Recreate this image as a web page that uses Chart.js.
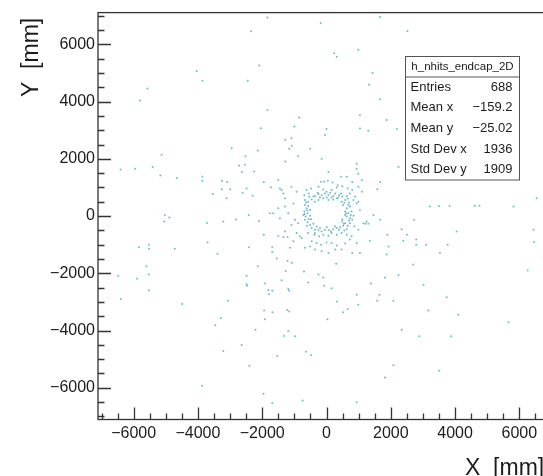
<!DOCTYPE html>
<html>
<head>
<meta charset="utf-8">
<title>h_nhits_endcap_2D</title>
<script src="https://cdn.jsdelivr.net/npm/chart.js@4.4.1/dist/chart.umd.min.js"></script>
<style>
  html, body { margin: 0; padding: 0; background: #fff; overflow: hidden; }
  #wrap { position: relative; width: 543px; height: 476px; overflow: hidden; }
  #hits { position: absolute; left: 0; top: 0; }
</style>
</head>
<body>
<div id="wrap"><canvas id="hits" width="556" height="476"></canvas></div>
<script>
// endcap hit positions [x, y] in mm
const ringHits = [
  [-1500,1250],[-170,1200],[-70,1200],[40,1230],[190,1170],[450,1370],[630,1370],[800,1190],[60,1540],[350,1080],
  [-620,910],[-480,960],[-250,1020],[-100,930],[0,850],[160,910],[320,1000],[490,1040],[660,960],[800,910],[990,1020],[1100,850],
  [-690,730],[-550,790],[-410,680],[-250,770],[-150,730],[-50,790],[60,730],[160,650],[270,790],[390,730],[490,680],[630,700],[730,790],[890,680],
  [-670,560],[-570,500],[-460,580],[-360,500],[-250,560],[-100,620],[60,560],[210,580],[320,620],[470,500],[580,560],[700,470],[840,560],[990,500],
  [-670,390],[-620,270],[-570,350],[-510,210],[-690,160],[520,390],[630,270],[580,160],[730,330],[780,160],[680,100],
  [-720,40],[-650,-20],[-590,100],[-510,10],[-480,-110],[580,40],[630,-20],[730,-80],[490,-110],[840,10],
  [-670,-130],[-590,-220],[-510,-310],[-410,-270],[490,-190],[580,-250],[660,-340],[730,-250],[800,-130],
  [-460,-420],[-360,-480],[-250,-500],[-150,-540],[-50,-480],[80,-500],[210,-460],[320,-420],[420,-390],[520,-340],[630,-460],
  [-570,-590],[-380,-650],[-230,-710],[-100,-650],[60,-690],[160,-590],[320,-650],[470,-590],[630,-650],[780,-710],
  [-770,-770],[-460,-880],[-310,-940],[-170,-1000],[0,-920],[160,-940],[320,-1030],[580,-960],[730,-820],
  [-670,-1110],[-510,-1060],[-360,-1170],[-150,-1230],[60,-1290],[270,-1170],[470,-1170],
  [-640,470],[-600,190],[-680,75],[-555,-110],[-605,-340],[-535,675],[555,467],[680,386],[607,98],[700,-156],
  [535,-271],[753,40],[659,617],[-358,698],[-202,651],[5,651],[213,698],[368,651],[-275,813],[109,813],
  [452,790],[-306,-363],[-202,-421],[5,-386],[140,-536],[265,-363],[389,-478],[-358,-594],[555,-502],
  [-1400,910],[-1340,790],[-1290,620],[-1090,1020],[-930,850],[-1030,440],[-1290,330],[-1190,100],[-1450,-80],[-1760,100],
  [-1660,100],[-980,-130],[-880,-250],[-1090,-310],[-1290,-540],[-1500,-710],[-1340,-730],[-1210,-730],[-930,-590],[-830,-710],
  [-1030,-880],[-1140,-1110],[-1730,1010],[-1450,960],[-1500,270],
  [1100,1250],[990,1480],[940,440],[1040,210],[870,-360],[990,-480],[1150,-250],[940,-940],[800,-1290],[1040,-1290]
];

const spreadHits = [
  [-1840,6940],[-2350,6460],[-2090,5260],[-4040,5070],[-3860,4730],[-2450,4730],[-5570,4460],[-5810,4040],[-1840,3710],[-2040,3070],
  [-850,3440],[-2950,2370],[-2520,2090],[-2140,2290],[-1280,2670],[-1090,2720],[-1160,2350],[-5130,2140],[-5410,1710],[-6410,1630],
  [-5960,1650],[-5170,1420],[-4660,1330],[-3860,1380],[-3860,1230],[-2720,1770],[-2540,1790],[-2630,1540],[-2250,1560],[-3250,1230],
  [-3090,1190],[-3540,770],[-2490,960],[-2610,810],[-2300,710],[-1950,1190],[-2100,-170],[-2420,40],[-2820,-120],[-3210,-190],
  [-3720,-240],[-5030,40],[-4890,-50],[-5050,-190],[-1950,-650],
  [-3260,940],[-3000,940],[-3110,620],[-1280,1910],[-880,2090],[-1000,3130],
  [-180,6750],[1670,6960],[2520,6470],[240,5690],[320,5570],[990,5810],[1430,5000],[1320,4590],[1670,4080],[1040,3520],
  [1870,3360],[2190,3040],[0,3040],[-50,2830],[1040,3060],[1300,2980],[-1080,2460],[-510,2350],[940,1830],[940,1650],
  [-150,2000],[2240,1710],[1670,1190],[1580,940],[3220,330],[3500,350],[3830,350],[4620,360],[4760,360],[1670,-130],
  [4050,-540],[2720,-130],[2340,-460],[1250,-190],[1460,40],[1890,-650],
  [6540,620],[5820,330],[6440,-480],[6460,-910],[6260,-1900],[5660,-3710],
  [-1080,-1630],[-700,-1940],[-570,-2320],[-250,-2040],[-100,-2150],[-70,-2440],[160,-2520],[300,-1670],[320,-2990],[520,-3360],
  [660,-3250],[940,-2750],[990,-3100],[30,-3610],[1380,-2360],[1820,-2150],[2240,-2070],[1650,-2750],[1580,-2960],[2080,-2960],
  [2700,-1690],[3020,-2400],[3530,-1290],[3740,-2840],[3170,-3300],[4100,-3450],[2340,-3970],[2890,-4200],[3880,-4200],[-980,-4200],
  [-640,-4740],[-480,-4860],[2080,-5210],[1820,-5640],[3510,-5410],[-740,-6450],[940,-6510],[1350,-860],[1930,-1060],[2500,-650],
  [2790,-1000],[3100,-1000],[2790,-820],[1870,-1340],[3770,-1000],[2390,-860],[1210,-270],[1300,-270],
  [-5840,-1090],[-5530,-1000],[-5520,-1140],[-4720,-1140],[-3700,-920],[-3390,-1320],[-2410,-1090],[-1690,-1090],[-1690,-1260],[-1550,-1480],
  [-1210,-1570],[-2140,-1750],[-2490,-2090],[-2490,-2380],[-2470,-2440],[-1920,-2360],[-1810,-2590],[-1790,-2730],[-1690,-2610],[-1400,-2240],
  [-1190,-2550],[-1160,-2610],[-1270,-1920],[-5600,-1750],[-5530,-2040],[-5520,-2590],[-5890,-2190],[-6480,-2090],[-6400,-2900],[-4490,-3070],
  [-3060,-2960],[-3290,-3560],[-3460,-3820],[-1940,-3300],[-1920,-3610],[-1680,-3360],[-1220,-3280],[-1160,-3340],[-2210,-3970],[-1320,-4190],
  [-1190,-4020],[-3210,-4720],[-2640,-4510],[-1530,-4890],[-2400,-5230],[-3870,-5930],[-1960,-6210],[-1690,-6530]
];

const xTicks = [-6000, -4000, -2000, 0, 2000, 4000, 6000];
const yTicks = [-6000, -4000, -2000, 0, 2000, 4000, 6000];
const axisRange = [-7110, 7110];

const statTitle = 'h_nhits_endcap_2D';
const statLabels = ['Entries', 'Mean x', 'Mean y', 'Std Dev x', 'Std Dev y'];
const statValues = ['688', '\u2212159.2', '\u221225.02', '1936', '1909'];

const FONT = '"Liberation Sans", Arial, Helvetica, sans-serif';
const INK = '#1c1c1c';

const fmtTick = (v) => (v < 0 ? '\u2212' + Math.abs(v) : String(v));

// ROOT-like frame: inward major/minor ticks, stats box, axis titles
const rootFrame = {
  id: 'rootFrame',
  afterDraw(chart) {
    const { ctx, chartArea: a, scales: { x, y } } = chart;
    ctx.save();

    ctx.strokeStyle = '#333';
    ctx.lineWidth = 1.3;
    ctx.beginPath();
    for (let v = -7000; v <= 7000; v += 500) {
      const major = v % 2000 === 0;
      const px = Math.round(x.getPixelForValue(v)) + 0.5;
      ctx.moveTo(px, a.bottom);
      ctx.lineTo(px, a.bottom - (major ? 12 : 6));
      const py = Math.round(y.getPixelForValue(v)) + 0.5;
      ctx.moveTo(a.left, py);
      ctx.lineTo(a.left + (major ? 13 : 6.5), py);
    }
    ctx.stroke();
    ctx.strokeRect(a.left, a.top, a.right - a.left, a.bottom - a.top);

    // stats box
    const bx = 405.5, by = 56.5, bw = 114, bh = 123.5, th = 20.5;
    ctx.fillStyle = '#fff';
    ctx.fillRect(bx, by, bw, bh);
    ctx.strokeStyle = '#555';
    ctx.lineWidth = 1;
    ctx.strokeRect(bx, by, bw, bh);
    ctx.beginPath();
    ctx.moveTo(bx, by + th);
    ctx.lineTo(bx + bw, by + th);
    ctx.stroke();

    ctx.fillStyle = INK;
    ctx.textBaseline = 'middle';
    ctx.textAlign = 'center';
    ctx.font = '11.5px ' + FONT;
    ctx.fillText(statTitle, bx + bw / 2, by + th / 2);
    const rowH = (bh - th) / statLabels.length;
    ctx.font = '13px ' + FONT;
    statLabels.forEach((lab, i) => {
      const ry = by + th + rowH * (i + 0.5);
      ctx.textAlign = 'left';
      ctx.fillText(lab, bx + 5, ry);
      ctx.textAlign = 'right';
      ctx.fillText(statValues[i], bx + bw - 7, ry);
    });

    // axis titles
    ctx.font = '23px ' + FONT;
    ctx.textAlign = 'left';
    ctx.textBaseline = 'alphabetic';
    ctx.fillText('X  [mm]', 465, 475);
    ctx.translate(38, 97);
    ctx.rotate(-Math.PI / 2);
    ctx.fillText('Y  [mm]', 0, 0);

    ctx.restore();
  }
};

const toPoints = (list) => list.map(([x, y]) => ({ x, y }));

new Chart(document.getElementById('hits'), {
  type: 'scatter',
  data: {
    datasets: [{
      label: 'h_nhits_endcap_2D',
      data: toPoints(spreadHits).concat(toPoints(ringHits)),
      backgroundColor: 'rgba(70,172,193,0.8)',
      borderWidth: 0,
      pointRadius: 1,
      pointHoverRadius: 1,
    }],
  },
  options: {
    responsive: false,
    animation: false,
    devicePixelRatio: 1,
    events: [],
    layout: { padding: { top: 8, right: 1, left: 0, bottom: 0 } },
    plugins: { legend: { display: false }, tooltip: { enabled: false } },
    scales: {
      x: {
        type: 'linear',
        min: axisRange[0],
        max: axisRange[1],
        afterBuildTicks: (s) => { s.ticks = xTicks.map((value) => ({ value })); },
        afterFit: (s) => { s.height = 56.5; },
        grid: { display: false, drawTicks: false },
        border: { display: false },
        ticks: {
          color: INK,
          font: { family: FONT, size: 16 },
          padding: 4,
          maxRotation: 0,
          autoSkip: false,
          callback: fmtTick,
        },
      },
      y: {
        type: 'linear',
        min: axisRange[0],
        max: axisRange[1],
        afterBuildTicks: (s) => { s.ticks = yTicks.map((value) => ({ value })); },
        afterFit: (s) => { s.width = 98; },
        grid: { display: false, drawTicks: false },
        border: { display: false },
        ticks: {
          color: INK,
          font: { family: FONT, size: 16 },
          padding: 3,
          autoSkip: false,
          callback: fmtTick,
        },
      },
    },
  },
  plugins: [rootFrame],
});
</script>
</body>
</html>
